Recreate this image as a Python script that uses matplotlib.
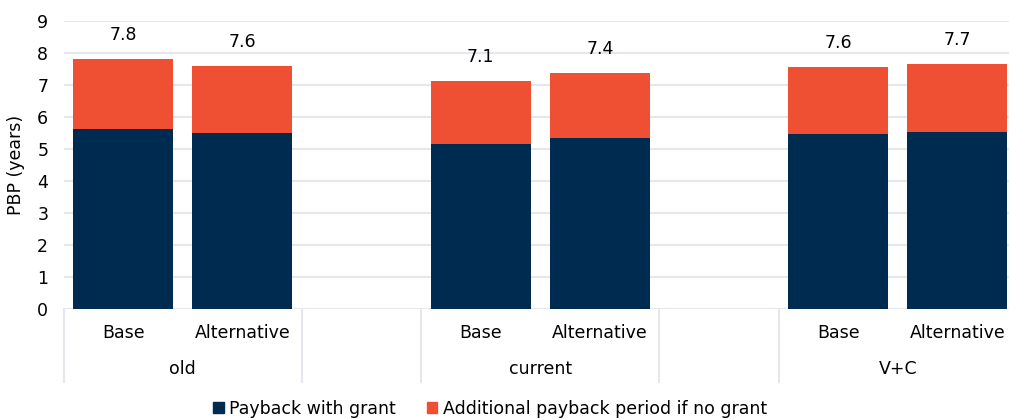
import numpy as np
import matplotlib
matplotlib.use("Agg")
from matplotlib import pyplot as plt
from matplotlib.lines import Line2D
from matplotlib.patches import Patch

# payback periods (years), one entry per bar
groups = ["old", "current", "V+C"]
variants = ["Base", "Alternative"]
with_grant = [5.63, 5.51, 5.15, 5.35, 5.47, 5.53]
no_grant_extra = [2.19, 2.08, 1.98, 2.03, 2.09, 2.13]
yticks = [0, 1, 2, 3, 4, 5, 6, 7, 8, 9]

NAVY = "#002B51"
ORANGE = "#EF5033"
GRID = "#E6E6EE"
FS = 12.5

plt.rcParams["font.family"] = ["DejaVu Sans"]

fig = plt.figure(figsize=(10.09, 4.19), dpi=100)
ax = fig.add_axes([63.5 / 1009, 1 - 309 / 419, 953.5 / 1009, 288 / 419])

# each group takes two slots, with one empty slot between groups
pos = []
for g in range(len(groups)):
    pos += [g * 3, g * 3 + 1]
pos = np.array(pos)
wg = np.array(with_grant)
ex = np.array(no_grant_extra)
total = wg + ex

ax.bar(pos, wg, width=0.84, color=NAVY, zorder=2)
ax.bar(pos, ex, bottom=wg, width=0.84, color=ORANGE, zorder=2)

for x, t in zip(pos, total):
    ax.annotate(f"{t:.1f}", (x, t), xytext=(0, 13.5), textcoords="offset points",
                ha="center", va="baseline", fontsize=FS)

ax.set_xlim(-0.5, 7.5)
ax.set_ylim(0, 9)
ax.set_yticks(yticks)
ax.tick_params(axis="y", length=0, pad=11, labelsize=FS)
ax.set_xticks([])
ax.grid(axis="y", color=GRID, linewidth=1.5, zorder=0)
for s in ax.spines.values():
    s.set_visible(False)
ax.set_ylabel("PBP (years)", fontsize=FS)
ax.yaxis.set_label_coords(-0.0404, 0.5)

# two-level category axis
trans = ax.get_xaxis_transform()
for x, name in zip(pos, variants * len(groups)):
    ax.text(x, -0.083, name, transform=trans, ha="center", va="center", fontsize=FS)
for g, name in enumerate(groups):
    ax.text(g * 3 + 0.5, -0.208, name, transform=trans, ha="center", va="center", fontsize=FS)
for xb in [-0.5, 1.5, 2.5, 4.5, 5.5, 7.5]:
    ax.add_line(Line2D([xb, xb], [0, -0.2524], transform=trans, color=GRID,
                       linewidth=1.5, clip_on=False))

handles = [Patch(color=NAVY), Patch(color=ORANGE)]
fig.legend(handles, ["Payback with grant", "Additional payback period if no grant"],
           loc="center", bbox_to_anchor=(490 / 1009, 0.024), ncol=2, frameon=False,
           fontsize=FS, handlelength=0.6, handleheight=0.6, handletextpad=0.3,
           columnspacing=1.8)

fig.savefig("out.png", dpi=100)
